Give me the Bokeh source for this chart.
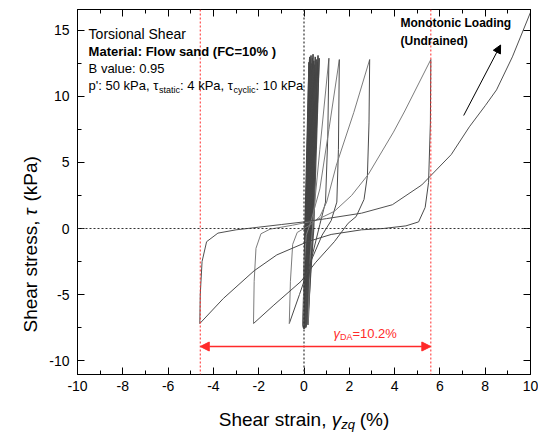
import math
from bokeh.plotting import figure
from bokeh.layouts import row, column
from bokeh.models import (Range1d, LinearAxis, FixedTicker, Span, Label, Arrow, NormalHead,
                          CustomJSTickFormatter)
from bokeh.embed import file_html
from bokeh.resources import INLINE

# ---------------- data (strain %, shear stress kPa) ----------------
x_major = [-10, -8, -6, -4, -2, 0, 2, 4, 6, 8, 10]
x_minor = [-9, -7, -5, -3, -1, 1, 3, 5, 7, 9]
y_major = [-10, -5, 0, 5, 10, 15]
y_minor = [-7.5, -2.5, 2.5, 7.5, 12.5]

# early (small-strain) cycles forming the dark band
dense_neg_x = [-0.04, -0.03, -0.02, -0.01, 0.00, 0.01, 0.02, 0.04, 0.06, 0.08, 0.10, 0.12, 0.15, 0.18]
dense_neg_y = [-7.3, -7.5, -7.4, -7.6, -7.5, -7.4, -7.6, -7.5, -7.3, -7.5, -7.4, -7.3, -7.2, -7.3]
dense_pos_x = [0.22, 0.25, 0.28, 0.31, 0.34, 0.37, 0.40, 0.43, 0.46, 0.50, 0.54, 0.58, 0.62, 0.67]
dense_pos_y = [12.6, 13.0, 12.8, 13.1, 12.5, 12.9, 13.2, 12.7, 12.4, 13.0, 12.8, 12.6, 13.1, 12.9]
dense_up_mid_x = [0.08, 0.10, 0.12, 0.14, 0.16, 0.18, 0.20, 0.23, 0.26, 0.29, 0.32, 0.35, 0.39, 0.43]
dense_dn_mid_x = [0.04, 0.06, 0.08, 0.10, 0.12, 0.14, 0.16, 0.18, 0.21, 0.24, 0.27, 0.30, 0.33, 0.37]

# larger loops
load_a_x = [0.18, 0.28, 0.42, 0.70, 1.10]
load_a_y = [-7.3, -2.0, 1.0, 6.0, 12.9]
unload_a_x = [1.10, 1.05, 0.95, 0.70, 0.30, -0.05]
unload_a_y = [12.9, 7.0, 2.0, 0.3, -2.5, -7.4]
load_b_x = [-0.05, 0.00, 0.10, 0.30, 0.70, 1.10, 1.56]
load_b_y = [-7.4, -3.0, -0.5, 0.5, 3.0, 7.5, 12.8]
unload_b_x = [1.56, 1.52, 1.45, 1.20, 0.80, 0.30, -0.20, -0.65]
unload_b_y = [12.8, 6.0, 2.0, 0.6, -0.5, -2.5, -5.0, -7.2]
load_c_x = [-0.65, -0.60, -0.50, -0.30, 0.30, 0.70, 1.00, 1.43, 2.20, 2.90]
load_c_y = [-7.2, -4.0, -1.2, -0.3, 0.3, 0.9, 2.0, 4.8, 8.8, 12.8]
unload_c_x = [2.90, 2.87, 2.80, 2.65, 2.30, 1.95, 1.34, 0.50, -0.13, -1.33, -2.23]
unload_c_y = [12.8, 8.0, 4.0, 2.2, 0.9, 0.4, -1.0, -2.6, -4.0, -5.8, -7.2]
load_d_x = [-2.23, -2.20, -2.12, -1.90, -1.50, -0.50, 0.50, 1.34, 2.10, 2.84, 3.95, 4.45, 5.60]
load_d_y = [-7.2, -4.0, -1.5, -0.4, -0.05, 0.25, 0.6, 1.3, 2.5, 4.1, 7.3, 8.9, 12.8]
unload_d_x = [5.60, 5.58, 5.50, 5.35, 5.06, 4.50, 3.50, 2.54, 1.20, 0.16, -1.20, -2.20, -3.56, -4.60]
unload_d_y = [12.8, 8.0, 3.5, 1.6, 0.5, 0.2, 0.0, -0.1, -0.45, -1.0, -2.0, -3.2, -5.3, -7.2]
mono_x = [-4.60, -4.58, -4.50, -4.30, -3.80, -3.00, -2.00, -1.00, 0.00, 1.00, 2.54, 3.90,
          5.20, 6.50, 7.30, 8.00, 8.50, 9.20, 10.10]
mono_y = [-7.2, -5.0, -2.5, -1.0, -0.35, -0.1, 0.1, 0.3, 0.5, 0.75, 1.16, 1.8,
          3.3, 5.6, 7.7, 9.3, 10.5, 13.0, 16.8]

gamma_neg = -4.58
gamma_pos = 5.60
arrow_level = -8.94
mono_arrow = [7.05, 8.56, 8.68, 13.9]

FONT = "Liberation Sans"
RED = "#ff2a2a"

# ---------------- main plot ----------------
LEFT_W = 44
MAIN_W = 538 - LEFT_W
MAIN_H = 399
p = figure(width=MAIN_W, height=MAIN_H, x_range=Range1d(-10, 10), y_range=Range1d(-11.06, 16.59),
           output_backend="svg", toolbar_location=None,
           min_border_left=33, min_border_right=8, min_border_top=9, min_border_bottom=25)
p.background_fill_color = "white"
p.border_fill_color = "white"
p.outline_line_color = "black"
p.outline_line_width = 1
p.xgrid.visible = False
p.ygrid.visible = False


def style_axis(ax, show_labels=True):
    ax.axis_line_color = "black"
    ax.axis_line_width = 1
    ax.major_tick_in = 7
    ax.major_tick_out = 0
    ax.minor_tick_in = 4
    ax.minor_tick_out = 0
    ax.major_tick_line_color = "black"
    ax.minor_tick_line_color = "black"
    ax.major_label_text_font = FONT
    ax.major_label_text_color = "black"
    ax.major_label_text_font_size = "14px"
    if show_labels:
        ax.formatter = CustomJSTickFormatter(code="return tick.toString();")
    else:
        ax.formatter = CustomJSTickFormatter(code="return '';")
        ax.major_label_standoff = 0


p.xaxis.ticker = FixedTicker(ticks=x_major, minor_ticks=x_minor)
p.yaxis.ticker = FixedTicker(ticks=y_major, minor_ticks=y_minor)
style_axis(p.xaxis[0])
style_axis(p.yaxis[0])
p.xaxis.major_label_standoff = 6
p.yaxis.major_label_standoff = 8

top = LinearAxis(ticker=FixedTicker(ticks=x_major, minor_ticks=x_minor))
style_axis(top, False)
p.add_layout(top, "above")
right = LinearAxis(ticker=FixedTicker(ticks=y_major, minor_ticks=y_minor))
style_axis(right, False)
p.add_layout(right, "right")

# reference lines
for dim in ["height", "width"]:
    p.add_layout(Span(location=0, dimension=dim, line_color="#333333", line_width=1.2, line_dash="2 2"))
for loc in [gamma_neg, gamma_pos]:
    p.add_layout(Span(location=loc, dimension="height", line_color=RED, line_width=1, line_dash="2 2"))

# ---------------- curves ----------------
xs, ys, cols, wids = [], [], [], []
DARK = "#4a4a4a"
LIGHT = "#7c7c7c"
prev = (0.0, 0.0)
for i in range(len(dense_pos_x)):
    xs.append([prev[0], dense_up_mid_x[i], dense_pos_x[i]])
    ys.append([prev[1], 0.0, dense_pos_y[i]])
    cols.append("#505050")
    wids.append(1.3)
    xs.append([dense_pos_x[i], dense_dn_mid_x[i], dense_neg_x[i]])
    ys.append([dense_pos_y[i], 0.0, dense_neg_y[i]])
    cols.append("#454545")
    wids.append(1.3)
    prev = (dense_neg_x[i], dense_neg_y[i])

for bx, by, c in [(load_a_x, load_a_y, LIGHT), (unload_a_x, unload_a_y, DARK),
                  (load_b_x, load_b_y, LIGHT), (unload_b_x, unload_b_y, DARK),
                  (load_c_x, load_c_y, LIGHT), (unload_c_x, unload_c_y, DARK),
                  (load_d_x, load_d_y, LIGHT), (unload_d_x, unload_d_y, DARK),
                  (mono_x, mono_y, "#505050")]:
    xs.append(bx)
    ys.append(by)
    cols.append(c)
    wids.append(1)

p.multi_line(xs=xs, ys=ys, line_color=cols, line_width=wids)

# arrows
p.add_layout(Arrow(start=NormalHead(size=9, fill_color=RED, line_color=RED),
                   end=NormalHead(size=9, fill_color=RED, line_color=RED),
                   x_start=gamma_neg, y_start=arrow_level, x_end=gamma_pos, y_end=arrow_level,
                   line_color=RED, line_width=1.5))
p.add_layout(Arrow(end=NormalHead(size=8, fill_color="black", line_color="black"),
                   x_start=mono_arrow[0], y_start=mono_arrow[1], x_end=mono_arrow[2], y_end=mono_arrow[3],
                   line_color="black", line_width=1))


def lab(fig, x, y, text, size, style="normal", color="black", xo=0, yo=0, angle=0.0):
    fig.add_layout(Label(x=x, y=y, text=text, text_font=FONT, text_font_size=f"{size}px",
                         text_font_style=style, text_color=color, x_offset=xo, y_offset=yo,
                         angle=angle, text_align="left", text_baseline="middle"))


# annotations top-left
lab(p, -9.51, 14.77, "Torsional Shear", 14)
lab(p, -9.51, 13.41, "Material: Flow sand (FC=10% )", 13, "bold")
lab(p, -9.51, 12.12, "B value: 0.95", 13)
lab(p, -9.51, 10.83, "p': 50 kPa, τ", 13)
lab(p, -9.51, 10.83, "static", 9, xo=70.5, yo=-4)
lab(p, -9.51, 10.83, ": 4 kPa, τ", 13, xo=91.5)
lab(p, -9.51, 10.83, "cyclic", 9, xo=145, yo=-4)
lab(p, -9.51, 10.83, ": 10 kPa", 13, xo=167)

# top-right
lab(p, 4.26, 15.6, "Monotonic Loading", 12, "bold")
lab(p, 4.26, 14.17, "(Undrained)", 12, "bold")

# gamma DA
lab(p, 1.30, -7.95, "γ", 13, "italic", RED)
lab(p, 1.30, -7.95, "DA", 9, color=RED, xo=6.5, yo=-4)
lab(p, 1.30, -7.95, "=10.2%", 13, color=RED, xo=19)


def blank_fig(w, h):
    f = figure(width=w, height=h, x_range=Range1d(0, w), y_range=Range1d(0, h),
               x_axis_type=None, y_axis_type=None, output_backend="svg", toolbar_location=None,
               min_border=0)
    f.outline_line_color = None
    f.xgrid.visible = False
    f.ygrid.visible = False
    f.background_fill_color = "white"
    f.border_fill_color = "white"
    return f


# x-axis title (below main plot)
XT_H = 434 - MAIN_H
xt = blank_fig(MAIN_W, XT_H)
x0 = 198 - LEFT_W
yc = 434 - 419
lab(xt, x0, yc, "Shear strain, ", 19)
lab(xt, x0, yc, "γ", 19, "italic", xo=113)
lab(xt, x0, yc, "zq", 13, "italic", xo=122.5, yo=-5)
lab(xt, x0, yc, "(%)", 19, xo=141)

# y-axis title (left of main plot)
yt = blank_fig(LEFT_W, MAIN_H)
ang = math.pi / 2
ys0 = MAIN_H - 332
lab(yt, 30, ys0, "Shear stress, ", 19, angle=ang)
lab(yt, 30, ys0, "τ", 19, "italic", yo=117, angle=ang)
lab(yt, 30, ys0, "(kPa)", 19, yo=131, angle=ang)

layout = row(yt, column(p, xt, spacing=0), spacing=0)
open("out.html", "w").write(file_html(layout, INLINE))
